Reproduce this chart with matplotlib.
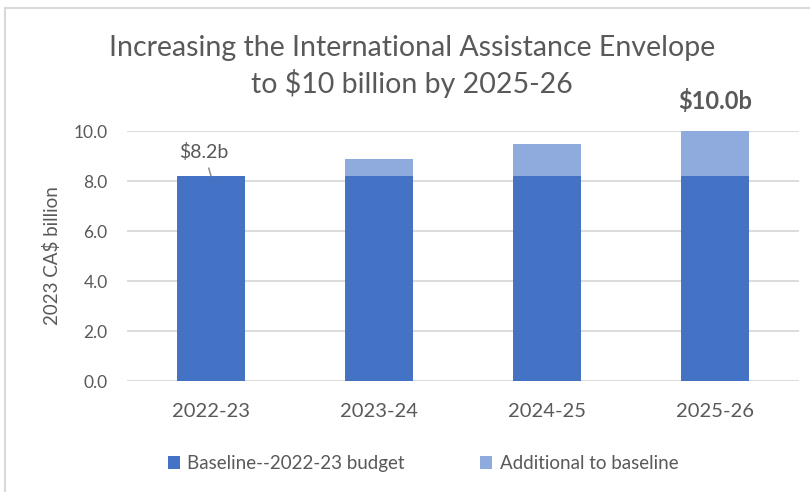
import matplotlib.pyplot as plt
from matplotlib.patches import Rectangle

# data
years = ["2022-23", "2023-24", "2024-25", "2025-26"]
baseline = [8.2, 8.2, 8.2, 8.2]
additional = [0.0, 0.7, 1.3, 1.8]
yticks = [0, 2, 4, 6, 8, 10]

base_color = "#4472C4"
add_color = "#8FAADC"
grey = "#595959"

plt.rcParams['font.family'] = ['Lato', 'DejaVu Sans']

fig = plt.figure(figsize=(8.1, 4.92), dpi=100)
ax = fig.add_axes([127/810, 1 - 381/492, 672/810, 250/492])

x = range(len(years))
ax.bar(x, baseline, width=0.4, color=base_color, label="Baseline--2022-23 budget", zorder=3)
ax.bar(x, additional, width=0.4, bottom=baseline, color=add_color,
       label="Additional to baseline", zorder=3)

ax.set_xlim(-0.5, 3.5)
ax.set_ylim(0, 10)
ax.set_yticks(yticks)
ax.set_yticklabels(["%.1f" % v for v in yticks], fontsize=12.5, color=grey)
ax.set_xticks(list(x))
ax.set_xticklabels(years, fontsize=14.5, color=grey)
ax.tick_params(length=0)
ax.tick_params(axis='x', pad=16)
ax.tick_params(axis='y', pad=14)
ax.grid(axis='y', color="#d9d9d9", linewidth=1.3, zorder=0)
for s in ax.spines.values():
    s.set_visible(False)
ax.set_ylabel("2023 CA$ billion", fontsize=13.5, color=grey, labelpad=9)

# labels on bars
ax.annotate("$8.2b", xy=(0, baseline[0]), xytext=(-0.04, baseline[0] + 0.95),
            ha='center', va='center', fontsize=14, color=grey,
            arrowprops=dict(arrowstyle='-', color="#8c8c8c", lw=1.1,
                            shrinkA=3, shrinkB=0))
total = baseline[3] + additional[3]
ax.text(3, total + 1.2, "$%.1fb" % total, ha='center', va='center',
        fontsize=17, fontweight='bold', color=grey)

fig.text(412/810, 1 - 48/492, "Increasing the International Assistance Envelope",
         ha='center', va='center', fontsize=20.5, color=grey)
fig.text(412/810, 1 - 83/492, "to $10 billion by 2025-26",
         ha='center', va='center', fontsize=20.5, color=grey)

ax.legend(loc='center', bbox_to_anchor=((423 - 127) / 672, -0.33), ncol=2, frameon=False,
          fontsize=13.5, labelcolor=grey, handlelength=0.65, handleheight=0.65,
          handletextpad=0.4, columnspacing=4.0)

# chart border
fig.patches.append(Rectangle((5/810, -0.1), 1.2, 1 - 8/492 + 0.1,
                             transform=fig.transFigure, fill=False,
                             edgecolor="#d9d9d9", linewidth=1.5))

fig.savefig("out.png", dpi=100)
